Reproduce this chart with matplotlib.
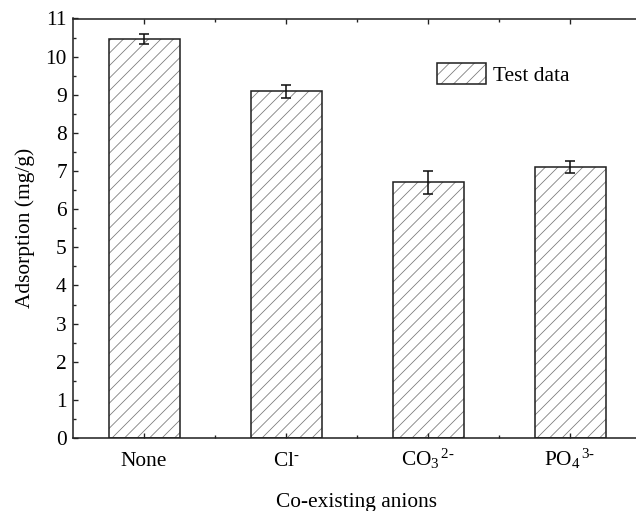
import matplotlib
matplotlib.use('Agg')
import matplotlib.pyplot as plt
from matplotlib.ticker import MultipleLocator, FixedLocator
from matplotlib.legend_handler import HandlerTuple

# data
anions = ['None', r'$Cl^{\text{-}}$', r'$CO_3{}^{\,\text{2-}}$', r'$PO_4{}^{\,\text{3-}}$']
adsorption = [10.46, 9.09, 6.71, 7.11]
errors = [0.13, 0.17, 0.30, 0.16]

plt.rcParams['font.family'] = 'Liberation Serif'
plt.rcParams['mathtext.fontset'] = 'custom'
plt.rcParams['mathtext.rm'] = 'Liberation Serif'
plt.rcParams['mathtext.it'] = 'Liberation Serif:italic'
plt.rcParams['mathtext.default'] = 'regular'
plt.rcParams['hatch.linewidth'] = 0.75

FS = 20.5
DPI = 75
fig = plt.figure(figsize=(636 / DPI, 511 / DPI), dpi=DPI)
ax = fig.add_axes([73 / 636, 1 - 438 / 511, 568 / 636, 419.5 / 511])

x = list(range(1, len(anions) + 1))
hatched = ax.bar(x, adsorption, width=0.5, color='white', edgecolor='#777777',
                 linewidth=0, hatch='//')
outline = ax.bar(x, adsorption, width=0.5, fill=False, edgecolor='#222222', linewidth=1.5)
ax.errorbar(x, adsorption, yerr=errors, fmt='none', ecolor='#111111',
            elinewidth=1.5, capsize=4.5, capthick=1.5)

ax.set_xlim(0.5, 4.5)
ax.set_ylim(0, 11)
ax.yaxis.set_major_locator(MultipleLocator(1))
ax.yaxis.set_minor_locator(MultipleLocator(0.5))
ax.set_xticks(x, anions)
ax.xaxis.set_minor_locator(FixedLocator([1.5, 2.5, 3.5]))

ax.tick_params(which='both', direction='in', top=True, right=False,
               labelsize=FS, width=1.3, color='#222222')
ax.tick_params(which='major', length=5)
ax.tick_params(which='minor', length=3)
ax.tick_params(axis='x', pad=27)
ax.tick_params(axis='y', pad=6)
for lbl in ax.get_xticklabels():
    lbl.set_verticalalignment('baseline')

for side in ['left', 'bottom', 'top']:
    ax.spines[side].set_linewidth(1.5)
    ax.spines[side].set_color('#222222')
ax.spines['right'].set_visible(False)

ax.set_xlabel('Co-existing anions', fontsize=FS)
ax.xaxis.set_label_coords(0.5, -0.131)
ax.set_ylabel('Adsorption (mg/g)', fontsize=FS, labelpad=10)

fig.legend([(hatched, outline)], ['Test data'], handler_map={tuple: HandlerTuple()},
           loc='upper left', bbox_to_anchor=(436.7 / 636, 1 - 62.5 / 511),
           frameon=False, borderpad=0, borderaxespad=0, fontsize=FS,
           handlelength=47 / FS, handleheight=24.5 / FS, handletextpad=0.33)

fig.savefig('out.png', dpi=DPI)
